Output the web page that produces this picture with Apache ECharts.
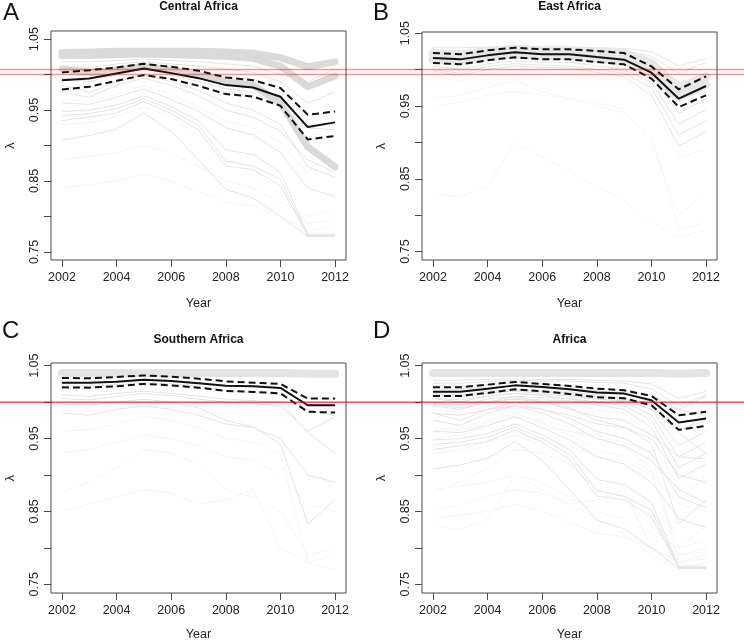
<!DOCTYPE html>
<html>
<head>
<meta charset="utf-8">
<script src="https://cdn.jsdelivr.net/npm/echarts@6/dist/echarts.min.js"></script>
<style>
html,body{margin:0;padding:0;background:#fff;}
#chart{width:744px;height:642px;}
</style>
</head>
<body>
<div id="chart"></div>
<script>
// ---------------- DATA ----------------
const years = [2002,2003,2004,2005,2006,2007,2008,2009,2010,2011,2012];
const xTicks = [2002,2004,2006,2008,2010,2012];
const yTicks = [0.75,0.80,0.85,0.90,0.95,1.00,1.05];
const yLabels = [0.75,0.85,0.95,1.05];
const refLine = 1.0;
const titles = ['Central Africa','East Africa','Southern Africa','Africa'];
const letters = ['A','B','C','D'];
const xName = 'Year';
const yName = 'λ';

// Panel A – Central Africa
const aMean  = [0.992,0.9945,1.0016,1.0086,1.0021,0.995,0.9852,0.9818,0.9687,0.926,0.9326];
const aUpper = [1.003,1.0063,1.010,1.0152,1.011,1.0055,0.996,0.9922,0.981,0.9434,0.948];
const aLower = [0.979,0.9828,0.9913,0.9993,0.9937,0.9842,0.9725,0.9691,0.956,0.9086,0.9134];
const aThick = [
  [1.031,1.032,1.033,1.033,1.033,1.033,1.032,1.030,1.024,1.011,1.018],
  [1.027,1.027,1.028,1.029,1.028,1.027,1.026,1.023,1.012,0.983,0.998],
  [1.008,1.003,1.006,1.012,1.006,0.999,0.990,0.985,0.960,0.898,0.870]
];
const aThin = [
  [0.948,0.950,0.957,0.970,0.955,0.935,0.894,0.887,0.862,0.775,0.775],
  [0.942,0.945,0.952,0.966,0.950,0.928,0.878,0.871,0.852,0.772,0.772],
  [0.935,0.940,0.946,0.962,0.945,0.922,0.871,0.866,0.843,0.773,0.773],
  [0.908,0.914,0.923,0.946,0.920,0.880,0.838,0.826,0.800,0.772,0.772],
  [0.975,0.968,0.985,0.995,0.985,0.970,0.950,0.940,0.920,0.880,0.862],
  [0.985,0.975,0.990,1.000,0.990,0.978,0.960,0.950,0.930,0.870,0.855],
  [0.960,0.958,0.968,0.980,0.965,0.948,0.925,0.915,0.890,0.840,0.828],
  [0.995,0.990,1.000,1.008,1.000,0.990,0.980,0.975,0.955,0.925,0.922],
  [1.018,1.018,1.020,1.022,1.020,1.018,1.015,1.012,1.000,0.990,1.008],
  [1.012,1.010,1.015,1.018,1.015,1.012,1.008,1.003,0.990,0.960,0.975]
];
const aFaint = [
  [0.930,0.932,0.940,0.955,0.940,0.915,0.880,0.870,0.830,0.790,0.795],
  [0.880,0.885,0.890,0.900,0.890,0.870,0.850,0.840,0.820,0.800,0.810],
  [0.965,0.962,0.972,0.985,0.972,0.955,0.935,0.925,0.905,0.860,0.900],
  [0.840,0.845,0.850,0.860,0.850,0.835,0.820,0.815,0.800,0.780,0.785]
];

// Panel B – East Africa
const bMean  = [1.0159,1.014,1.0195,1.0237,1.021,1.021,1.0172,1.0136,0.9957,0.960,0.9774];
const bUpper = [1.0227,1.021,1.0264,1.030,1.0278,1.0278,1.0255,1.0227,1.0044,0.9728,0.9907];
const bLower = [1.009,1.0072,1.0127,1.0168,1.014,1.014,1.0104,1.0072,0.9875,0.9485,0.9646];
const bThick = [
  [1.022,1.020,1.025,1.028,1.026,1.026,1.024,1.022,1.008,0.975,0.990],
  [1.014,1.012,1.018,1.022,1.020,1.020,1.016,1.013,0.995,0.962,0.980]
];
const bThin = [
  [1.030,1.030,1.031,1.032,1.031,1.031,1.030,1.029,1.025,1.005,1.015],
  [1.026,1.026,1.028,1.030,1.029,1.029,1.027,1.026,1.018,0.995,1.010],
  [1.010,1.008,1.012,1.016,1.014,1.014,1.010,1.006,0.990,0.940,0.960],
  [1.005,1.000,1.008,1.012,1.010,1.010,1.005,1.000,0.982,0.925,0.945],
  [1.000,0.995,1.004,1.008,1.006,1.005,1.000,0.995,0.975,0.910,0.930],
  [0.998,0.992,1.000,1.005,1.003,1.002,0.996,0.990,0.965,0.895,0.915]
];
const bFaint = [
  [0.990,0.985,0.995,1.000,0.998,0.996,0.990,0.985,0.955,0.880,0.890],
  [0.950,0.955,0.965,0.970,0.965,0.960,0.955,0.945,0.900,0.800,0.830],
  [0.830,0.825,0.840,0.900,0.880,0.860,0.840,0.820,0.790,0.770,0.780],
  [0.960,0.965,0.975,0.985,0.970,0.960,0.950,0.940,0.910,0.780,0.790]
];

// Panel C – Southern Africa
const cMean  = [1.0267,1.0265,1.0281,1.0308,1.029,1.0258,1.0226,1.0217,1.0195,0.9957,0.9957];
const cUpper = [1.0332,1.0327,1.0345,1.0367,1.035,1.0322,1.0285,1.0267,1.025,1.0049,1.0049];
const cLower = [1.0203,1.0199,1.0217,1.025,1.023,1.0199,1.0154,1.014,1.0121,0.9867,0.9857];
const cThick = [
  [1.040,1.040,1.040,1.040,1.040,1.040,1.040,1.040,1.040,1.039,1.039]
];
const cThin = [
  [1.022,1.022,1.024,1.027,1.025,1.022,1.016,1.013,1.010,0.990,0.981],
  [1.010,1.008,1.012,1.015,1.012,1.008,1.004,1.002,1.000,0.958,0.930],
  [0.997,0.996,1.000,1.004,1.000,0.992,0.975,0.966,0.943,0.833,0.866],
  [1.005,1.003,1.008,1.012,1.009,1.004,1.000,0.998,0.995,0.960,0.980],
  [0.985,0.982,0.990,0.995,0.990,0.982,0.970,0.965,0.950,0.900,0.890]
];
const cFaint = [
  [0.875,0.890,0.910,0.935,0.930,0.915,0.880,0.870,0.850,0.790,0.800],
  [0.960,0.962,0.970,0.980,0.975,0.965,0.950,0.945,0.930,0.780,0.770],
  [0.930,0.935,0.945,0.955,0.950,0.940,0.925,0.920,0.900,0.860,0.850],
  [0.850,0.860,0.870,0.880,0.875,0.860,0.866,0.880,0.800,0.780,0.790]
];

// Panel D – Africa (all regions)
const dMean  = [1.0144,1.0144,1.0185,1.023,1.0208,1.0176,1.0131,1.0117,1.0025,0.972,0.9775];
const dUpper = [1.0203,1.0203,1.024,1.0277,1.025,1.0222,1.0185,1.0162,1.0085,0.982,0.9867];
const dLower = [1.0085,1.0085,1.0126,1.0176,1.0149,1.0113,1.0067,1.0053,0.9957,0.962,0.9675];
const dThick = [
  [1.040,1.040,1.040,1.040,1.040,1.040,1.040,1.040,1.040,1.039,1.040]
];
const dThin = [].concat(aThin, bThin, cThin);
const dFaint = [].concat(aFaint, bFaint, cFaint);

// ---------------- LAYOUT / STYLE ----------------
const FONT = 'Liberation Sans, Arial, Helvetica, sans-serif';
const layout = [
  {left:51,  top:31,  width:295, height:229, ymin:0.7385, ymax:1.0615, thickW:7, thickC:'#dadada', titleY:7,   letterX:3,   letterY:13,  nameGap:37},
  {left:422, top:32,  width:295, height:228, ymin:0.7384, ymax:1.0516, thickW:9, thickC:'#e8e8e8', titleY:7,   letterX:373, letterY:13,  nameGap:37},
  {left:51,  top:363, width:295, height:231, ymin:0.7381, ymax:1.0537, thickW:8, thickC:'#e4e4e4', titleY:340, letterX:2,   letterY:331, nameGap:35},
  {left:422, top:363, width:295, height:231, ymin:0.7381, ymax:1.0537, thickW:8, thickC:'#e4e4e4', titleY:340, letterX:373, letterY:331, nameGap:35}
];
const panels = [
  {mean:aMean, upper:aUpper, lower:aLower, thick:aThick, thin:aThin, faint:aFaint},
  {mean:bMean, upper:bUpper, lower:bLower, thick:bThick, thin:bThin, faint:bFaint},
  {mean:cMean, upper:cUpper, lower:cLower, thick:cThick, thin:cThin, faint:cFaint},
  {mean:dMean, upper:dUpper, lower:dLower, thick:dThick, thin:dThin, faint:dFaint}
];

const grids = [], xAxes = [], yAxes = [], series = [];
function pts(vals){ return years.map((y,i)=>[y, vals[i]]); }
function line(idx, vals, style, z){
  return {type:'line', xAxisIndex:idx, yAxisIndex:idx, data:pts(vals), symbol:'none', showSymbol:false,
          silent:true, animation:false, clip:true, z:z, lineStyle:style};
}
layout.forEach((L, i) => {
  grids.push({left:L.left, top:L.top, width:L.width, height:L.height, show:true,
              borderColor:'#4a4a4a', borderWidth:1, backgroundColor:'transparent'});
  xAxes.push({type:'value', gridIndex:i, min:2001.6, max:2012.4,
    name:xName, nameLocation:'middle', nameGap:L.nameGap,
    nameTextStyle:{fontFamily:FONT, fontSize:12.5, color:'#222'},
    axisLine:{show:false}, splitLine:{show:false},
    axisTick:{show:true, inside:false, length:7, customValues:xTicks, lineStyle:{color:'#4a4a4a', width:1}},
    axisLabel:{show:true, margin:11, customValues:xTicks, fontFamily:FONT, fontSize:12.5, color:'#222',
               formatter:v=>String(Math.round(v))}
  });
  yAxes.push({type:'value', gridIndex:i, min:L.ymin, max:L.ymax,
    name:yName, nameLocation:'middle', nameGap:34, nameRotate:90,
    nameTextStyle:{fontFamily:FONT, fontSize:12.5, color:'#222'},
    axisLine:{show:false}, splitLine:{show:false},
    axisTick:{show:true, inside:false, length:7, customValues:yTicks, lineStyle:{color:'#4a4a4a', width:1}},
    axisLabel:{show:true, margin:10, rotate:90, customValues:yLabels, fontFamily:FONT, fontSize:12.5, color:'#222',
               formatter:v=>v.toFixed(2)}
  });
  const P = panels[i];
  P.faint.forEach(v => series.push(line(i, v, {color:'#f6f6f6', width:1}, 1)));
  P.thin.forEach(v => series.push(line(i, v, {color:'#e4e4e4', width:1}, 2)));
  P.thick.forEach(v => series.push(line(i, v, {color:L.thickC, width:L.thickW, cap:'round', join:'round'}, 3)));
  series.push(line(i, P.upper, {color:'#111', width:2, type:[7,4]}, 5));
  series.push(line(i, P.lower, {color:'#111', width:2, type:[7,4]}, 5));
  series.push(line(i, P.mean,  {color:'#111', width:2}, 6));
});

const chart = echarts.init(document.getElementById('chart'), null, {renderer:'canvas'});
chart.setOption({animation:false, grid:grids, xAxis:xAxes, yAxis:yAxes, series:series});

const graphics = [];
layout.forEach((L, i) => {
  graphics.push({type:'text', x:L.left + L.width/2, y:L.titleY, z:100,
    style:{text:titles[i], fontFamily:FONT, fontSize:12, fontWeight:'bold', fill:'#111', textAlign:'center', textVerticalAlign:'middle'}});
  graphics.push({type:'text', x:L.letterX, y:L.letterY, z:100,
    style:{text:letters[i], fontFamily:FONT, fontSize:24, fill:'#111', textAlign:'left', textVerticalAlign:'middle'}});
  const py = chart.convertToPixel({gridIndex:i}, [years[0], refLine])[1];
  graphics.push({type:'line', z:100, shape:{x1:0, y1:py, x2:744, y2:py},
    style:{stroke:'rgba(220,0,0,0.4)', lineWidth:1.5}});
});
chart.setOption({graphic:graphics});
</script>
</body>
</html>
